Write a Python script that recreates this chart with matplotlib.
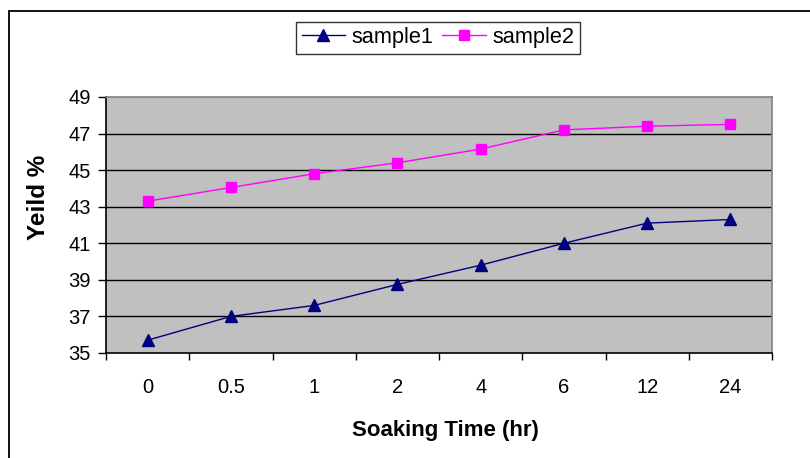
import matplotlib
matplotlib.use("Agg")
import matplotlib.pyplot as plt
import numpy as np

times = ["0", "0.5", "1", "2", "4", "6", "12", "24"]
sample1 = [35.7, 37.0, 37.6, 38.75, 39.8, 41.0, 42.1, 42.3]
sample2 = [43.3, 44.05, 44.8, 45.4, 46.15, 47.2, 47.4, 47.5]
yticks = [35, 37, 39, 41, 43, 45, 47, 49]

plt.rcParams["font.family"] = ["Liberation Sans", "DejaVu Sans"]

fig = plt.figure(figsize=(8.1, 4.58), dpi=100)
ax = fig.add_axes([0.1309, 0.2293, 0.8222, 0.5590])
ax.set_facecolor("#c0c0c0")

xs = np.arange(len(times))
ax.plot(xs, sample1, color="#000080", linewidth=1.0, marker="^",
        markersize=8, label="sample1", zorder=3)
ax.plot(xs, sample2, color="#ff00ff", linewidth=1.0, marker="s",
        markersize=7, label="sample2", zorder=3)

ax.set_xlim(-0.5, len(times) - 0.5)
ax.set_ylim(35, 49)
ax.set_yticks(yticks)
ax.set_yticklabels([str(v) for v in yticks], fontsize=14.5)
ax.set_xticks(xs)
ax.set_xticklabels(times, fontsize=14.5)
ax.set_xticks(np.arange(len(times) + 1) - 0.5, minor=True)
ax.tick_params(axis="x", which="major", length=0, pad=18)
ax.tick_params(axis="x", which="minor", length=5, width=1, color="black")
ax.tick_params(axis="y", length=6, width=1, color="black", pad=5)

for v in yticks[1:-1]:
    ax.axhline(v, color="black", linewidth=1.0, zorder=1)

for side in ["top", "right"]:
    ax.spines[side].set_color("#808080")
for side in ["left", "bottom"]:
    ax.spines[side].set_color("black")
for sp in ax.spines.values():
    sp.set_linewidth(1.2)

ax.set_xlabel("Soaking Time (hr)", fontsize=16, fontweight="bold")
ax.xaxis.set_label_coords(0.51, -0.262)
ax.set_ylabel("Yeild %", fontsize=17.5, fontweight="bold")
ax.yaxis.set_label_coords(-0.084, 0.607)

leg = fig.legend(loc="center", bbox_to_anchor=(0.5407, 0.918), ncol=2,
                 fontsize=15.7, frameon=True, fancybox=False, edgecolor="black",
                 handlelength=2.0, handletextpad=0.3, columnspacing=0.4,
                 borderpad=0.25, borderaxespad=0)
leg.get_frame().set_linewidth(1.0)

fig.patches.append(plt.Rectangle((8.5 / 810, -0.1), 1.1, 0.9749 + 0.1,
                                 transform=fig.transFigure, fill=False,
                                 edgecolor="black", linewidth=1.3))

fig.savefig("out.png", dpi=100, facecolor="white")
